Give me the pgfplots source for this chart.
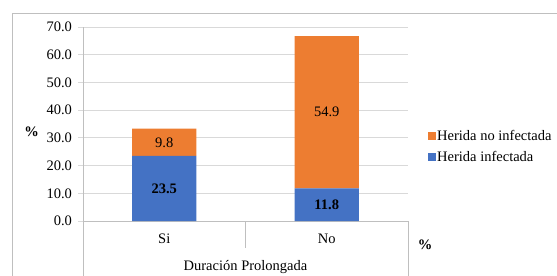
\documentclass[border=0pt]{standalone}
\usepackage{pgfplots}
\pgfplotsset{compat=1.18}
\usepackage{fontspec}
\setmainfont{Liberation Serif}
\definecolor{cblue}{HTML}{4472C4}
\definecolor{corange}{HTML}{ED7D31}
\definecolor{gridc}{HTML}{D9D9D9}
\definecolor{framec}{HTML}{BFBFBF}
\newcommand{\fs}{\fontsize{14.5bp}{17bp}\selectfont}
\begin{document}
\begin{tikzpicture}
\useasboundingbox (0,0) rectangle (557bp,276bp);
\draw[framec, line width=0.8bp] (12bp,-5bp) rectangle (570bp,263bp);
\pgfplotsset{base/.style={
  at={(83bp,55bp)}, anchor=south west,
  scale only axis, width=325bp, height=194bp,
  xmin=-0.5, xmax=1.5, ymin=0, ymax=70, clip=false}}
\begin{axis}[base,
  ybar stacked, bar width=0.394,
  xtick={0,1}, xticklabels={Si,No},
  x tick style={draw=none},
  ytick={0,10,...,70},
  ymajorgrids, grid style={gridc, line width=0.8bp},
  axis x line*=bottom, axis y line*=left,
  axis line style={framec, line width=0.8bp},
  y tick style={gridc, line width=0.8bp},
  tick align=outside, major tick length=5bp,
  tick label style={font=\fs},
  /pgf/number format/assume math mode=true,
  yticklabel style={xshift=-2.5bp, /pgf/number format/.cd, fixed, fixed zerofill, precision=1},
  xticklabel style={yshift=-4bp},
  legend style={draw=none, fill=none, at={(1.06,0.384)}, anchor=west,
    font=\fs, row sep=7bp, inner sep=0pt,
    nodes={inner sep=1.5bp}},
  legend cell align=left,
  reverse legend,
  legend image code/.code={\fill[#1] (0bp,-4bp) rectangle (8bp,4bp);},
]
\addplot[fill=cblue, draw=none] coordinates {(0,23.5) (1,11.8)};
\addlegendentry{Herida infectada}
\addplot[fill=corange, draw=none] coordinates {(0,9.8) (1,54.9)};
\addlegendentry{Herida no infectada}
\draw[framec, line width=0.8bp] (axis cs:-0.5,0) -- ([yshift=-70bp]axis cs:-0.5,0);
\draw[framec, line width=0.8bp] (axis cs:0.5,0) -- ([yshift=-27bp]axis cs:0.5,0);
\draw[framec, line width=0.8bp] (axis cs:1.5,0) -- ([yshift=-70bp]axis cs:1.5,0);
\end{axis}
\begin{axis}[base, hide axis]
\addplot[draw=none, nodes near coords, point meta=explicit symbolic,
  every node near coord/.style={anchor=center, font=\fs, text=black}]
  coordinates {(0,11.75)[\textbf{23.5}] (0,28.4)[9.8] (1,5.9)[\textbf{11.8}] (1,39.25)[54.9]};
\end{axis}
\node[font=\fs] at (245.5bp,9bp) {Duración Prolongada};
\node[font=\fs\bfseries] at (31.5bp,144bp) {\%};
\node[font=\fs\bfseries] at (425bp,31bp) {\%};
\end{tikzpicture}
\end{document}
